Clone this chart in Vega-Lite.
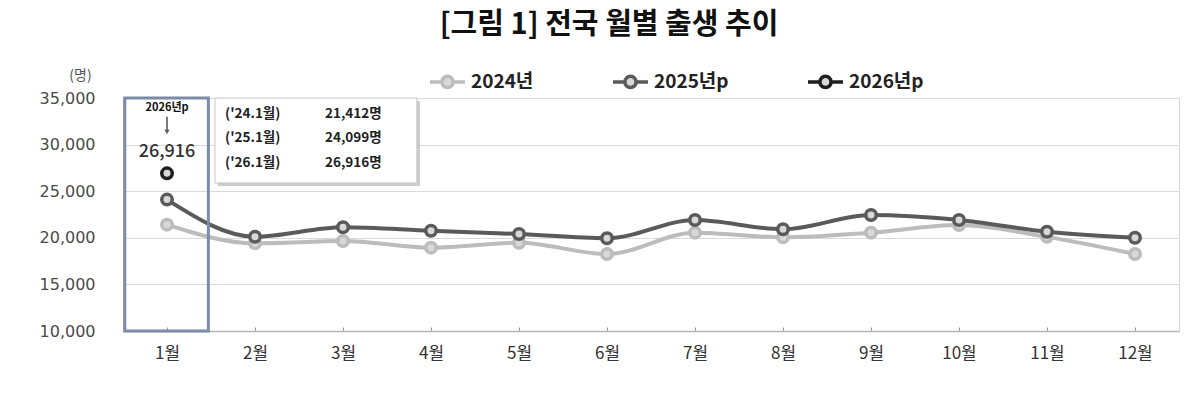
{
  "$schema": "https://vega.github.io/schema/vega-lite/v6.json",
  "width": 1056,
  "height": 233,
  "autosize": {"type": "none"},
  "padding": {"left": 123, "top": 98, "right": 21, "bottom": 67},
  "background": "white",
  "title": {
    "text": "[그림 1] 전국 월별 출생 추이",
    "font": "Noto Sans CJK KR",
    "fontSize": 29,
    "fontWeight": "bold",
    "color": "#111111",
    "anchor": "middle",
    "frame": "bounds",
    "offset": 22
  },
  "config": {
    "font": "Noto Sans CJK KR",
    "view": {"stroke": "#d4d4d4"}
  },
  "datasets": {
    "births": [
      {"month": "1월", "year": "2024년", "births": 21412},
      {"month": "2월", "year": "2024년", "births": 19410},
      {"month": "3월", "year": "2024년", "births": 19660},
      {"month": "4월", "year": "2024년", "births": 18940},
      {"month": "5월", "year": "2024년", "births": 19470},
      {"month": "6월", "year": "2024년", "births": 18260},
      {"month": "7월", "year": "2024년", "births": 20550},
      {"month": "8월", "year": "2024년", "births": 20050},
      {"month": "9월", "year": "2024년", "births": 20550},
      {"month": "10월", "year": "2024년", "births": 21370},
      {"month": "11월", "year": "2024년", "births": 20100},
      {"month": "12월", "year": "2024년", "births": 18260},
      {"month": "1월", "year": "2025년p", "births": 24099},
      {"month": "2월", "year": "2025년p", "births": 20120},
      {"month": "3월", "year": "2025년p", "births": 21130},
      {"month": "4월", "year": "2025년p", "births": 20760},
      {"month": "5월", "year": "2025년p", "births": 20410},
      {"month": "6월", "year": "2025년p", "births": 19950},
      {"month": "7월", "year": "2025년p", "births": 21910},
      {"month": "8월", "year": "2025년p", "births": 20910},
      {"month": "9월", "year": "2025년p", "births": 22450},
      {"month": "10월", "year": "2025년p", "births": 21910},
      {"month": "11월", "year": "2025년p", "births": 20650},
      {"month": "12월", "year": "2025년p", "births": 20010},
      {"month": "1월", "year": "2026년p", "births": 26916}
    ],
    "one": [{}]
  },
  "layer": [
    {
      "data": {"name": "births"},
      "mark": {
        "type": "line",
        "strokeWidth": 4,
        "interpolate": "monotone",
        "point": {"filled": false, "fill": "#d8d8d8", "size": 110, "strokeWidth": 3.5}
      },
      "encoding": {
        "x": {
          "field": "month",
          "type": "ordinal",
          "sort": ["1월", "2월", "3월", "4월", "5월", "6월", "7월", "8월", "9월", "10월", "11월", "12월"],
          "scale": {"type": "point", "padding": 0.5},
          "axis": {
            "title": null,
            "labelAngle": 0,
            "labelFontSize": 17,
            "labelColor": "#333333",
            "labelPadding": 18,
            "tickSize": -4,
            "tickColor": "#999999",
            "domainColor": "#b5b5b5",
            "domainWidth": 1.5,
            "grid": false
          }
        },
        "y": {
          "field": "births",
          "type": "quantitative",
          "scale": {"domain": [10000, 35000], "nice": false, "zero": false},
          "axis": {
            "title": "(명)",
            "values": [10000, 15000, 20000, 25000, 30000, 35000],
            "labelExpr": "format(datum.value, ',')",
            "labelFont": "DejaVu Sans",
            "labelFontSize": 16,
            "labelColor": "#4a4a4a",
            "labelPadding": 28,
            "ticks": false,
            "domain": false,
            "gridColor": "#dadada",
            "titleAngle": 0,
            "titleX": -43,
            "titleY": -23,
            "titleAlign": "center",
            "titleBaseline": "middle",
            "titleFontSize": 14,
            "titleFontWeight": "normal",
            "titleColor": "#555555"
          }
        },
        "color": {
          "field": "year",
          "type": "nominal",
          "scale": {"domain": ["2024년", "2025년p", "2026년p"], "range": ["#bcbcbc", "#5a5a5a", "#1e1e1e"]},
          "legend": {
            "orient": "none",
            "legendX": 305,
            "legendY": -36,
            "direction": "horizontal",
            "title": null,
            "symbolType": "M-1,0L-0.32,0M0.32,0L1,0M-0.32,0A0.32,0.32 0 1,0 0.32,0A0.32,0.32 0 1,0 -0.32,0Z",
            "symbolSize": 1225,
            "symbolStrokeWidth": 3.5,
            "symbolFillColor": "#d8d8d8",
            "labelFont": "Noto Sans CJK KR",
            "labelFontSize": 19,
            "labelFontWeight": "bold",
            "labelColor": "#222222",
            "labelOffset": 4,
            "columnPadding": 72
          }
        }
      }
    },
    {
      "data": {"name": "one"},
      "layer": [
        {
          "mark": {"type": "rect", "fill": "transparent", "stroke": "#7d8ba6", "strokeWidth": 3},
          "encoding": {
            "x": {"datum": 0.02, "type": "quantitative", "scale": {"domain": [0, 12], "nice": false, "zero": false}, "axis": null},
            "x2": {"datum": 0.97},
            "y": {"datum": 35000, "type": "quantitative"},
            "y2": {"datum": 10000}
          }
        },
        {
          "mark": {"type": "rect", "fill": "#aaaaaa", "opacity": 0.6, "xOffset": 3, "x2Offset": 3, "yOffset": 3, "y2Offset": 3},
          "encoding": {
            "x": {"datum": 1.045, "type": "quantitative"},
            "x2": {"datum": 3.34},
            "y": {"datum": 35000, "type": "quantitative"},
            "y2": {"datum": 25880}
          }
        },
        {
          "mark": {"type": "rect", "fill": "white", "stroke": "#c4c4c4", "strokeWidth": 1},
          "encoding": {
            "x": {"datum": 1.045, "type": "quantitative"},
            "x2": {"datum": 3.34},
            "y": {"datum": 35000, "type": "quantitative"},
            "y2": {"datum": 25880}
          }
        },
        {
          "mark": {"type": "text", "text": "2026년p", "fontSize": 11, "fontWeight": "bold", "color": "#111111"},
          "encoding": {
            "x": {"datum": 0.5, "type": "quantitative"},
            "y": {"datum": 33900, "type": "quantitative"}
          }
        },
        {
          "mark": {"type": "rule", "stroke": "#222222", "strokeWidth": 1.2},
          "encoding": {
            "x": {"datum": 0.5, "type": "quantitative"},
            "y": {"datum": 33000, "type": "quantitative"},
            "y2": {"datum": 31500}
          }
        },
        {
          "mark": {"type": "point", "shape": "triangle-down", "filled": true, "color": "#222222", "size": 28},
          "encoding": {
            "x": {"datum": 0.5, "type": "quantitative"},
            "y": {"datum": 31350, "type": "quantitative"}
          }
        },
        {
          "mark": {"type": "text", "text": "26,916", "fontSize": 18, "fontWeight": 500, "color": "#333333"},
          "encoding": {
            "x": {"datum": 0.5, "type": "quantitative"},
            "y": {"datum": 29250, "type": "quantitative"}
          }
        },
        {
          "mark": {"type": "text", "text": "('24.1월)", "align": "left", "fontSize": 13.5, "fontWeight": "bold", "color": "#222222"},
          "encoding": {"x": {"datum": 1.16, "type": "quantitative"}, "y": {"datum": 33283, "type": "quantitative"}}
        },
        {
          "mark": {"type": "text", "text": "('25.1월)", "align": "left", "fontSize": 13.5, "fontWeight": "bold", "color": "#222222"},
          "encoding": {"x": {"datum": 1.16, "type": "quantitative"}, "y": {"datum": 30708, "type": "quantitative"}}
        },
        {
          "mark": {"type": "text", "text": "('26.1월)", "align": "left", "fontSize": 13.5, "fontWeight": "bold", "color": "#222222"},
          "encoding": {"x": {"datum": 1.16, "type": "quantitative"}, "y": {"datum": 28026, "type": "quantitative"}}
        },
        {
          "mark": {"type": "text", "text": "21,412명", "align": "left", "fontSize": 13.5, "fontWeight": "bold", "color": "#222222"},
          "encoding": {"x": {"datum": 2.295, "type": "quantitative"}, "y": {"datum": 33283, "type": "quantitative"}}
        },
        {
          "mark": {"type": "text", "text": "24,099명", "align": "left", "fontSize": 13.5, "fontWeight": "bold", "color": "#222222"},
          "encoding": {"x": {"datum": 2.295, "type": "quantitative"}, "y": {"datum": 30708, "type": "quantitative"}}
        },
        {
          "mark": {"type": "text", "text": "26,916명", "align": "left", "fontSize": 13.5, "fontWeight": "bold", "color": "#222222"},
          "encoding": {"x": {"datum": 2.295, "type": "quantitative"}, "y": {"datum": 28026, "type": "quantitative"}}
        }
      ]
    }
  ],
  "resolve": {"scale": {"x": "independent"}}
}
